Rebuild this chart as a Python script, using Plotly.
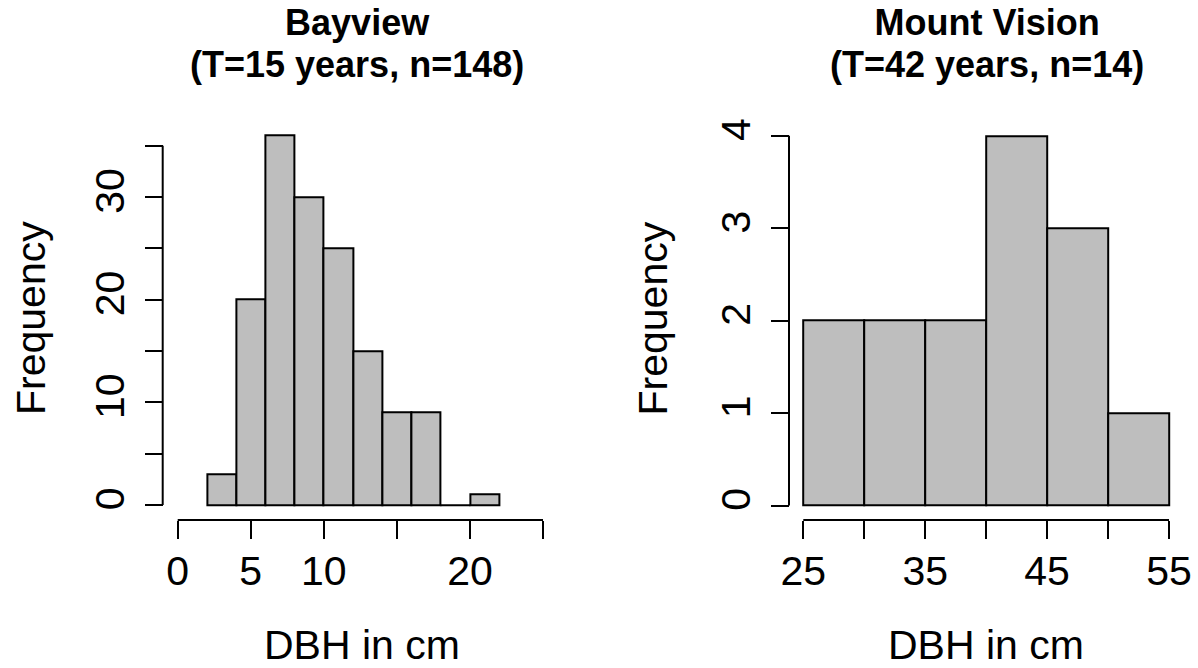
import plotly.graph_objects as go

W, H = 1198, 668

# ---- data ----
left_breaks = [2, 4, 6, 8, 10, 12, 14, 16, 18, 20, 22]
left_counts = [3, 20, 36, 30, 25, 15, 9, 9, 0, 1]
right_breaks = [25, 30, 35, 40, 45, 50, 55]
right_counts = [2, 2, 2, 4, 3, 1]

left_xticks = [0, 5, 10, 15, 20, 25]
left_xticktext = ["0", "5", "10", "", "20", ""]
left_yticks = [0, 5, 10, 15, 20, 25, 30, 35]
left_yticktext = ["0", "", "10", "", "20", "", "30", ""]
right_xticks = [25, 30, 35, 40, 45, 50, 55]
right_xticktext = ["25", "", "35", "", "45", "", "55"]
right_yticks = [0, 1, 2, 3, 4]
right_yticktext = ["0", "1", "2", "3", "4"]

titles = [("Bayview", "(T=15 years, n=148)"), ("Mount Vision", "(T=42 years, n=14)")]
xlabel = "DBH in cm"
ylabel = "Frequency"

FONT = "Liberation Sans, Arial, Helvetica, sans-serif"
FILL = "#BEBEBE"


def px_x(p):
    return p / W


def px_y(p):
    return 1 - p / H


def domain_x(v0_px, scale, rng):
    a = v0_px + (rng[0]) * scale
    b = v0_px + (rng[1]) * scale
    return [px_x(a), px_x(b)]


def domain_y(v0_px, scale, rng):
    a = v0_px - rng[0] * scale
    b = v0_px - rng[1] * scale
    return [px_y(a), px_y(b)]


# pixel calibration (value 0 pixel, px per unit)
L_x0, L_xs = 177.7, (543.0 - 177.7) / 25
L_y0, L_ys = 505.0, (505.0 - 145.7) / 35
R_x0, R_xs = 803.3 - 25 * (1169.0 - 803.3) / 30, (1169.0 - 803.3) / 30
R_y0, R_ys = 505.5, (505.5 - 135.7) / 4

L_xr = [-0.5, 25.5]
L_yr = [-0.6, 36.6]
R_xr = [24.5, 55.5]
R_yr = [-0.06, 4.06]

fig = go.Figure()


def centers(br):
    return [(br[i] + br[i + 1]) / 2 for i in range(len(br) - 1)]


def widths(br):
    return [br[i + 1] - br[i] for i in range(len(br) - 1)]


fig.add_trace(go.Bar(x=centers(left_breaks), y=left_counts, width=widths(left_breaks),
                     marker=dict(color=FILL, line=dict(color="black", width=2)),
                     xaxis="x", yaxis="y", showlegend=False, hoverinfo="skip"))
fig.add_trace(go.Bar(x=centers(right_breaks), y=right_counts, width=widths(right_breaks),
                     marker=dict(color=FILL, line=dict(color="black", width=2)),
                     xaxis="x2", yaxis="y2", showlegend=False, hoverinfo="skip"))

tickfont = dict(family=FONT, size=41, color="black")
common = dict(showgrid=False, zeroline=False, showline=False, ticks="outside",
              ticklen=18, tickwidth=2, tickcolor="black", tickfont=tickfont,
              fixedrange=True, tickmode="array", automargin=False)

fig.update_layout(
    width=W, height=H, margin=dict(l=0, r=0, t=0, b=0, pad=0, autoexpand=False),
    paper_bgcolor="white", plot_bgcolor="white", bargap=0,
    xaxis=dict(domain=domain_x(L_x0, L_xs, L_xr), range=L_xr, anchor="free",
               position=px_y(520), tickvals=left_xticks, ticktext=left_xticktext,
               tickangle=0, ticklabelstandoff=-3, **common),
    yaxis=dict(domain=domain_y(L_y0, L_ys, L_yr), range=L_yr, anchor="free",
               position=px_x(162.7), tickvals=left_yticks, ticktext=left_yticktext,
               tickangle=-90, ticklabelstandoff=4, **common),
    xaxis2=dict(domain=domain_x(R_x0, R_xs, R_xr), range=R_xr, anchor="free",
                position=px_y(520), tickvals=right_xticks, ticktext=right_xticktext,
                tickangle=0, ticklabelstandoff=-3, **common),
    yaxis2=dict(domain=domain_y(R_y0, R_ys, R_yr), range=R_yr, anchor="free",
                position=px_x(789), tickvals=right_yticks, ticktext=right_yticktext,
                tickangle=-90, ticklabelstandoff=5, **common),
)

# axis lines spanning first to last tick (R style)
line = dict(color="black", width=2)
fig.add_shape(type="line", xref="x", yref="paper", x0=left_xticks[0], x1=left_xticks[-1],
              y0=px_y(520), y1=px_y(520), line=line)
fig.add_shape(type="line", xref="paper", yref="y", x0=px_x(162.7), x1=px_x(162.7),
              y0=left_yticks[0], y1=left_yticks[-1], line=line)
fig.add_shape(type="line", xref="x2", yref="paper", x0=right_xticks[0], x1=right_xticks[-1],
              y0=px_y(520), y1=px_y(520), line=line)
fig.add_shape(type="line", xref="paper", yref="y2", x0=px_x(789), x1=px_x(789),
              y0=right_yticks[0], y1=right_yticks[-1], line=line)


def ann(text, xp, yp, size, angle=0):
    fig.add_annotation(text=text, x=px_x(xp), y=px_y(yp),
                       xref="paper", yref="paper", showarrow=False, textangle=angle,
                       xanchor="center", yanchor="middle", borderpad=0, borderwidth=0,
                       font=dict(family=FONT, size=size, color="black"))


# Two-line bold titles: the base font size sets the line spacing (1.3em),
# the inner spans carry the visible glyph size.
for (t1, t2), cx in zip(titles, [357, 987]):
    txt = (f'<b><span style="font-size:36px">{t1}</span></b><br>'
           f'<b><span style="font-size:36px">{t2}</span></b>')
    ann(txt, cx, 43.3, 32.3)

ann(xlabel, 362, 645, 41)
ann(xlabel, 986, 645, 41)
ann(ylabel, 31, 318, 41, angle=-90)
ann(ylabel, 652.5, 319, 41, angle=-90)

fig.write_html("out.html")
